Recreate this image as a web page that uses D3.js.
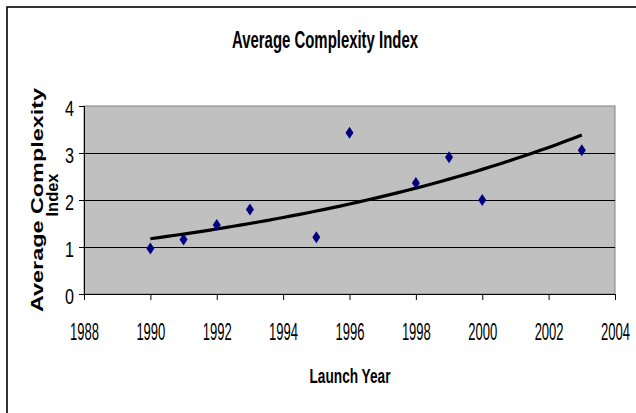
<!DOCTYPE html>
<html>
<head>
<meta charset="utf-8">
<script src="https://cdn.jsdelivr.net/npm/d3@7"></script>
<style>
  html, body { margin: 0; padding: 0; background: #fff; }
  svg { display: block; }
  text { font-family: "Liberation Sans", Arial, sans-serif; fill: #000; }
</style>
</head>
<body>
<svg id="chart" width="636" height="413"></svg>
<script>
// Launch years and the average complexity index for each
const launchYears = [1990, 1991, 1992, 1993, 1995, 1996, 1998, 1999, 2000, 2003];
const complexity  = [0.97, 1.16, 1.47, 1.80, 1.21, 3.43, 2.36, 2.91, 2.00, 3.06];

// Axis ticks
const xTicks = [1988, 1990, 1992, 1994, 1996, 1998, 2000, 2002, 2004];
const yTicks = [0, 1, 2, 3, 4];

const svg = d3.select("#chart");

const plot = { left: 84, right: 615, top: 106, bottom: 294 };

const x = d3.scaleLinear().domain([1988, 2004]).range([plot.left, plot.right]);
const y = d3.scaleLinear().domain([0, 4]).range([plot.bottom, plot.top]);

// Outer chart frame
svg.append("rect")
  .attr("x", 7).attr("y", 7)
  .attr("width", 640).attr("height", 420)
  .attr("fill", "none").attr("stroke", "#000").attr("stroke-width", 1.6);

// Plot area background and border
svg.append("rect")
  .attr("x", plot.left).attr("y", plot.top)
  .attr("width", plot.right - plot.left).attr("height", plot.bottom - plot.top)
  .attr("fill", "#c0c0c0").attr("stroke", "#808080").attr("stroke-width", 1);

// Horizontal gridlines
svg.append("g")
  .selectAll("line")
  .data(yTicks.filter(d => d > 0 && d < 4))
  .join("line")
  .attr("x1", plot.left).attr("x2", plot.right)
  .attr("y1", d => Math.round(y(d)) + 0.5).attr("y2", d => Math.round(y(d)) + 0.5)
  .attr("stroke", "#000").attr("stroke-width", 1);

// Y axis
const yAxis = svg.append("g")
  .attr("transform", `translate(${plot.left},0)`)
  .call(d3.axisLeft(y).tickValues(yTicks).tickFormat(d3.format("d")).tickSize(5).tickPadding(10));
yAxis.select(".domain").attr("stroke", "#000");
yAxis.selectAll(".tick line").attr("stroke", "#000");
yAxis.selectAll(".tick text")
  .attr("font-size", 22).attr("font-family", "Liberation Sans, Arial, sans-serif")
  .attr("x", -10).attr("dy", "0.42em")
  .attr("textLength", 9).attr("lengthAdjust", "spacingAndGlyphs");

// X axis
const xAxis = svg.append("g")
  .attr("transform", `translate(0,${plot.bottom})`)
  .call(d3.axisBottom(x).tickValues(xTicks).tickFormat(d3.format("d")).tickSize(6).tickPadding(0));
xAxis.select(".domain").attr("stroke", "#000");
xAxis.selectAll(".tick line").attr("stroke", "#000");
xAxis.selectAll(".tick text")
  .attr("font-size", 23).attr("font-family", "Liberation Sans, Arial, sans-serif")
  .attr("y", 46).attr("dy", 0)
  .attr("textLength", 29).attr("lengthAdjust", "spacingAndGlyphs");

// Exponential trend fitted by least squares on ln(index)
const n = launchYears.length;
const mx = d3.mean(launchYears);
const ly = complexity.map(v => Math.log(v));
const my = d3.mean(ly);
let sxy = 0, sxx = 0;
for (let i = 0; i < n; i++) {
  sxy += (launchYears[i] - mx) * (ly[i] - my);
  sxx += (launchYears[i] - mx) ** 2;
}
const b = sxy / sxx;
const a = my - b * mx;
const trendX = d3.range(d3.min(launchYears), d3.max(launchYears) + 0.001, 0.25);
svg.append("path")
  .datum(trendX)
  .attr("d", d3.line().x(t => x(t)).y(t => y(Math.exp(a + b * t))))
  .attr("fill", "none").attr("stroke", "#000").attr("stroke-width", 3.2);

// Data markers (diamonds)
svg.append("g")
  .selectAll("path")
  .data(launchYears.map((yr, i) => [yr, complexity[i]]))
  .join("path")
  .attr("transform", d => `translate(${x(d[0])},${y(d[1])})`)
  .attr("d", "M0,-6L4,0L0,6L-4,0Z")
  .attr("fill", "#000080");

// Chart title
svg.append("text")
  .attr("x", 325).attr("y", 48)
  .attr("text-anchor", "middle")
  .attr("font-size", 23).attr("font-weight", "bold")
  .attr("textLength", 186).attr("lengthAdjust", "spacingAndGlyphs")
  .text("Average Complexity Index");

// X axis title
svg.append("text")
  .attr("x", 350).attr("y", 383)
  .attr("text-anchor", "middle")
  .attr("font-size", 21).attr("font-weight", "bold")
  .attr("textLength", 81).attr("lengthAdjust", "spacingAndGlyphs")
  .text("Launch Year");

// Y axis title (two lines)
svg.append("text")
  .attr("transform", "translate(43,200) rotate(-90)")
  .attr("text-anchor", "middle")
  .attr("font-size", 16.5).attr("font-weight", "bold")
  .attr("textLength", 224).attr("lengthAdjust", "spacingAndGlyphs")
  .text("Average Complexity");
svg.append("text")
  .attr("transform", "translate(58,195) rotate(-90)")
  .attr("text-anchor", "middle")
  .attr("font-size", 16.5).attr("font-weight", "bold")
  .attr("textLength", 43).attr("lengthAdjust", "spacingAndGlyphs")
  .text("Index");
</script>
</body>
</html>
